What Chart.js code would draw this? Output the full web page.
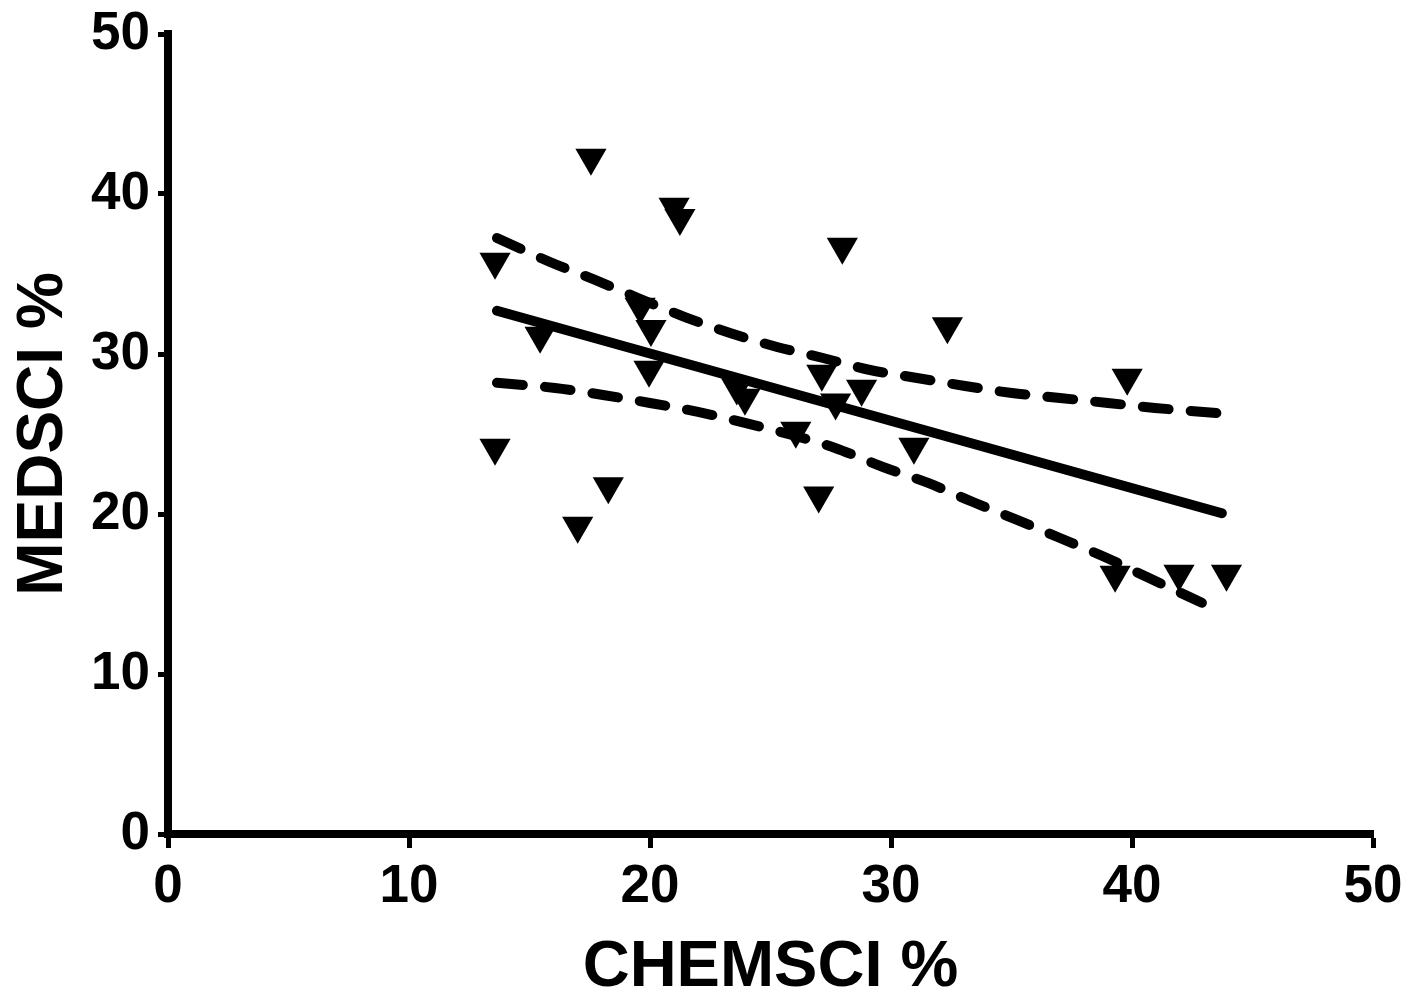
<!DOCTYPE html>
<html>
<head>
<meta charset="utf-8">
<script src="https://cdn.jsdelivr.net/npm/chart.js@4/dist/chart.umd.min.js"></script>
<style>
  body { margin: 0; background: #fff; }
  #wrap { width: 1406px; height: 994px; position: relative; }
</style>
</head>
<body>
<div id="wrap"><canvas id="scatter"></canvas></div>
<script>
// measured points (CHEMSCI %, MEDSCI %)
const chemsci = [13.57, 13.57, 15.44, 17.0, 17.55, 18.27, 19.59, 20.04, 19.96, 21.0, 21.24, 23.6, 23.94,
                 26.05, 27.0, 27.13, 27.7, 27.98, 28.78, 30.95, 32.34, 39.8, 39.3, 41.95, 43.92];
const medsci  = [35.77, 24.14, 31.14, 19.27, 42.27, 21.73, 32.96, 31.56, 29.02, 39.2, 38.5, 27.9, 27.27,
                 25.2, 21.16, 28.77, 26.97, 36.7, 27.83, 24.2, 31.73, 28.52, 16.2, 16.27, 16.27];

// regression line
const fitX = [13.65, 43.73];
const fitY = [32.7, 20.05];

// 95% band
const upperX = [13.65, 15.85, 17.72, 19.5, 21.45, 23.32, 25.27, 27.18, 29.13, 31.08, 33.07, 35.02, 37.01, 39.0, 40.95, 43.5];
const upperY = [37.25, 35.75, 34.63, 33.5, 32.31, 31.31, 30.44, 29.75, 29.0, 28.5, 28.0, 27.56, 27.25, 26.94, 26.63, 26.31];
const lowerX = [13.65, 16.06, 18.05, 20.0, 21.99, 23.94, 25.89, 27.68, 29.67, 31.54, 33.4, 35.23, 37.01, 38.96, 40.62, 42.9];
const lowerY = [28.2, 27.88, 27.44, 26.94, 26.38, 25.69, 24.94, 24.13, 22.94, 21.94, 20.75, 19.63, 18.5, 17.25, 16.06, 14.45];

const ticks = [0, 10, 20, 30, 40, 50];

function pairs(xs, ys) {
  return xs.map(function (x, i) { return { x: x, y: ys[i] }; });
}

const fontFam = "'Liberation Sans', Arial, sans-serif";

const lineStyle = {
  type: 'line',
  showLine: true,
  borderColor: '#000',
  borderWidth: 10,
  borderCapStyle: 'round',
  borderJoinStyle: 'round',
  pointRadius: 0,
  tension: 0.3,
  fill: false
};

var ctx = document.getElementById('scatter').getContext('2d');

var chart = new Chart(ctx, {
  type: 'scatter',
  data: {
    datasets: [
      {
        label: 'data',
        data: pairs(chemsci, medsci),
        pointStyle: 'triangle',
        pointRotation: 180,
        pointRadius: 18,
        pointHoverRadius: 18,
        pointBackgroundColor: '#000',
        pointBorderWidth: 0
      },
      Object.assign({ label: 'fit', data: pairs(fitX, fitY) }, lineStyle),
      Object.assign({ label: 'upper', data: pairs(upperX, upperY), borderDash: [26, 22] }, lineStyle),
      Object.assign({ label: 'lower', data: pairs(lowerX, lowerY), borderDash: [26, 22] }, lineStyle)
    ]
  },
  options: {
    responsive: true,
    maintainAspectRatio: false,
    animation: false,
    events: [],
    layout: { padding: { top: 34, right: 33, left: 0, bottom: 0 } },
    plugins: { legend: { display: false }, tooltip: { enabled: false } },
    scales: {
      x: {
        type: 'linear',
        min: 0,
        max: 50,
        afterBuildTicks: function (axis) { axis.ticks = ticks.map(function (v) { return { value: v }; }); },
        afterFit: function (axis) {
          axis.height = 160;
          axis.paddingLeft = 0;
          axis.paddingRight = 0;
        },
        grid: { drawOnChartArea: false, drawTicks: true, tickLength: 14, tickWidth: 5, tickColor: '#000' },
        border: { display: true, width: 8, color: '#000' },
        ticks: { color: '#000', padding: 8, font: { family: fontFam, size: 53, weight: 'bold' } },
        title: {
          display: true,
          text: 'CHEMSCI %',
          color: '#000',
          padding: 0,
          font: { family: fontFam, size: 65, weight: 'bold', lineHeight: 0.8 }
        }
      },
      y: {
        type: 'linear',
        min: 0,
        max: 50,
        afterBuildTicks: function (axis) { axis.ticks = ticks.map(function (v) { return { value: v }; }); },
        afterFit: function (axis) {
          axis.width = 168;
          axis.paddingTop = 0;
          axis.paddingBottom = 0;
        },
        grid: { drawOnChartArea: false, drawTicks: true, tickLength: 10, tickWidth: 5, tickColor: '#000' },
        border: { display: true, width: 8, color: '#000' },
        ticks: { color: '#000', padding: 8, font: { family: fontFam, size: 53, weight: 'bold' } },
        title: {
          display: true,
          text: 'MEDSCI %',
          color: '#000',
          padding: { top: 19, bottom: 0 },
          font: { family: fontFam, size: 64, weight: 'bold', lineHeight: 0.8 }
        }
      }
    }
  }
});
</script>
</body>
</html>
